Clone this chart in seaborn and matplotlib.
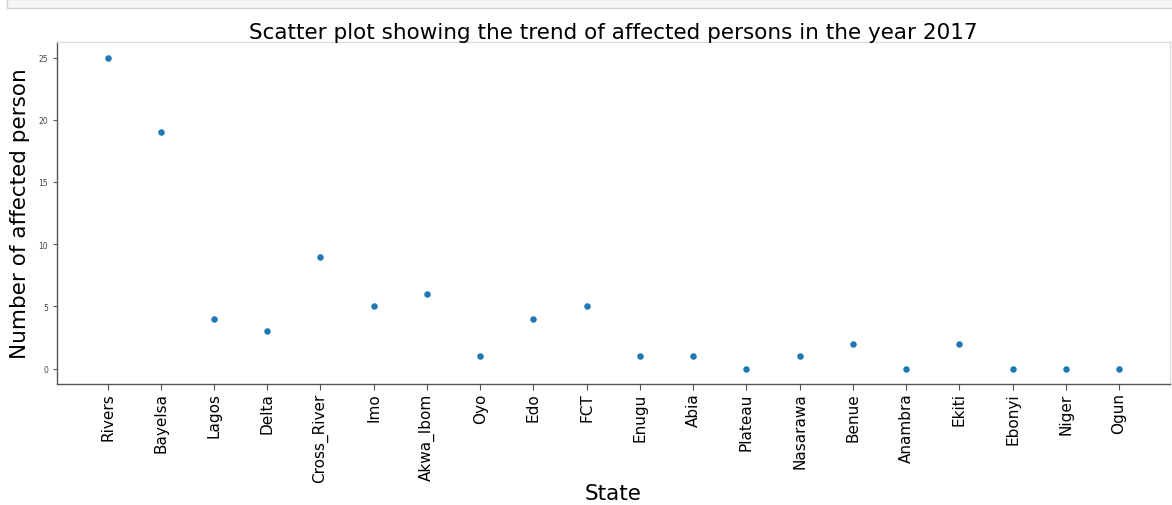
import matplotlib
matplotlib.use("Agg")
import matplotlib.pyplot as plt
from matplotlib.patches import Rectangle
import seaborn as sns
import pandas as pd

states = ["Rivers", "Bayelsa", "Lagos", "Delta", "Cross_River", "Imo", "Akwa_Ibom",
          "Oyo", "Edo", "FCT", "Enugu", "Abia", "Plateau", "Nasarawa", "Benue",
          "Anambra", "Ekiti", "Ebonyi", "Niger", "Ogun"]
affected = [25, 19, 4, 3, 9, 5, 6, 1, 4, 5, 1, 1, 0, 1, 2, 0, 2, 0, 0, 0]

df = pd.DataFrame({"State": states, "Affected": affected})

sns.set_style("ticks")
plt.rcParams["font.family"] = ["DejaVu Sans"]
plt.rcParams["text.color"] = "black"
plt.rcParams["axes.labelcolor"] = "black"

fig = plt.figure(figsize=(11.72, 5.06), dpi=100)
ax = fig.add_axes([0.0486, 0.239, 0.9494, 0.676])

# notebook cell strip at the very top of the screenshot
fig.add_artist(Rectangle((7 / 1172, 1 - 9 / 506), 1.0, 9 / 506, transform=fig.transFigure,
                         facecolor="#f7f7f7", edgecolor="#d0d0d0", linewidth=1.0))

sns.scatterplot(data=df, x="State", y="Affected", ax=ax, color="#1f77b4",
                s=22, linewidth=0)

ax.margins(x=0.05, y=0.05)
ax.set_title("Scatter plot showing the trend of affected persons in the year 2017",
             fontsize=15.5, pad=3, color="black")
ax.set_xlabel("State", fontsize=15.5, labelpad=1)
ax.set_ylabel("Number of affected person", fontsize=15.5, labelpad=6)
ax.set_yticks([0, 5, 10, 15, 20, 25])
ax.tick_params(axis="y", labelsize=5.5, length=3, color="#555555", labelcolor="#444444")
ax.tick_params(axis="x", labelsize=11, length=4, pad=2, color="#555555",
               labelcolor="black", rotation=90)

for side in ["left", "bottom"]:
    ax.spines[side].set_color("#555555")
    ax.spines[side].set_linewidth(1.0)
for side in ["top", "right"]:
    ax.spines[side].set_visible(True)
    ax.spines[side].set_color("#dddddd")
    ax.spines[side].set_linewidth(1.0)

plt.savefig("out.png", dpi=100)
plt.close()
